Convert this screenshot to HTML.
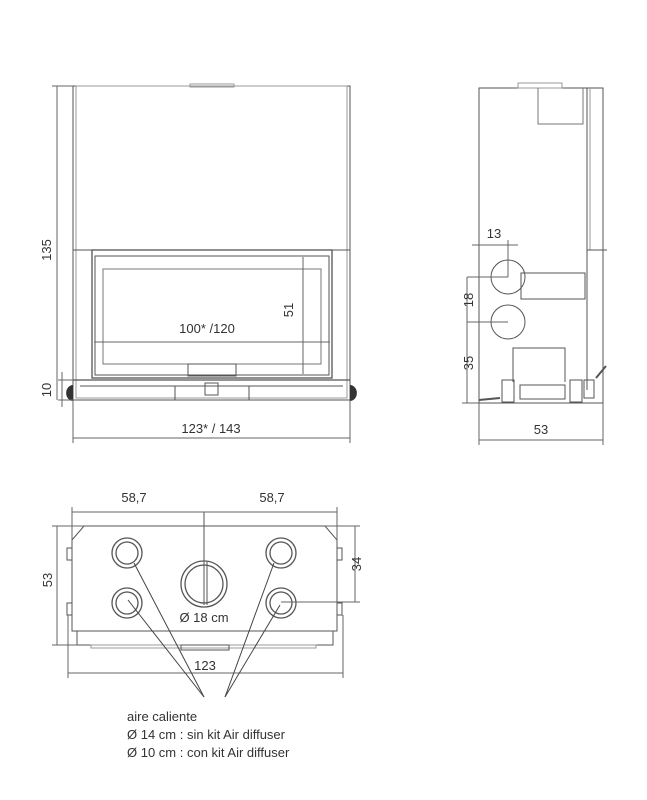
<!DOCTYPE html>
<html><head><meta charset="utf-8"><style>
html,body{margin:0;padding:0;background:#fff;width:647px;height:800px;overflow:hidden}
svg{display:block}
text{font-family:"Liberation Sans",sans-serif;fill:#333;font-size:13px}
</style></head><body>
<svg width="647" height="800" viewBox="0 0 647 800" xmlns="http://www.w3.org/2000/svg">
<g fill="none" stroke="#555" stroke-width="1">
<!-- FRONT VIEW -->
<rect x="73" y="86" width="277" height="314"/>
<rect x="76" y="86" width="271" height="312" stroke="#999"/>
<rect x="190" y="84" width="44" height="3" stroke="#999"/>
<line x1="73" y1="250" x2="350" y2="250"/>
<rect x="92" y="250" width="240" height="128" stroke-width="1.3"/>
<rect x="95" y="256" width="234" height="119"/>
<rect x="103" y="269" width="218" height="95" stroke="#777"/>
<rect x="188" y="364" width="48" height="12"/>
<line x1="73" y1="380" x2="350" y2="380" stroke-width="1.3"/>
<line x1="80" y1="386" x2="343" y2="386"/>
<line x1="175" y1="386" x2="175" y2="400"/>
<line x1="249" y1="386" x2="249" y2="400"/>
<rect x="205" y="383" width="13" height="12"/>
<line x1="73" y1="400" x2="350" y2="400"/>
<!-- feet -->
<g fill="#333" stroke="none"><path d="M73 385 a6 7 0 0 0 0 16 z"/><path d="M350 385 a6 7 0 0 1 0 16 z"/></g>
<!-- front dims -->
<line x1="57" y1="86" x2="57" y2="400" stroke="#666"/>
<line x1="52" y1="86" x2="73" y2="86" stroke="#666"/>
<line x1="62" y1="372" x2="62" y2="407" stroke="#666"/>
<line x1="58" y1="380" x2="73" y2="380" stroke="#666"/>
<line x1="58" y1="400" x2="73" y2="400" stroke="#666"/>
<line x1="73" y1="400" x2="73" y2="443" stroke="#666"/>
<line x1="350" y1="400" x2="350" y2="443" stroke="#666"/>
<line x1="73" y1="438" x2="350" y2="438" stroke="#666"/>
<line x1="94" y1="342" x2="330" y2="342" stroke="#666"/>
<line x1="303" y1="257" x2="303" y2="374" stroke="#666"/>

<!-- SIDE VIEW -->
<rect x="479" y="88" width="124" height="315"/>
<line x1="587" y1="88" x2="587" y2="390"/>
<line x1="590" y1="88" x2="590" y2="250" stroke="#999"/>
<rect x="518" y="83" width="44" height="5" stroke="#999"/>
<path d="M538 88 V124 H583 V88" stroke="#777"/>
<circle cx="508" cy="277" r="17"/>
<circle cx="508" cy="322" r="17"/>
<rect x="521" y="273" width="64" height="26"/>
<line x1="587" y1="250" x2="607" y2="250"/>
<path d="M513 382 V348 H565 V382"/>
<rect x="502" y="380" width="12" height="22"/>
<rect x="570" y="380" width="12" height="22"/>
<rect x="520" y="385" width="45" height="14"/>
<rect x="584" y="380" width="10" height="18"/>
<line x1="596" y1="378" x2="606" y2="366" stroke-width="2"/>
<line x1="479" y1="400" x2="500" y2="398" stroke-width="2"/>
<!-- side dims -->
<line x1="472" y1="245" x2="518" y2="245" stroke="#666"/>
<line x1="508" y1="240" x2="508" y2="277" stroke="#666"/>
<line x1="467" y1="277" x2="508" y2="277" stroke="#666"/>
<line x1="467" y1="322" x2="508" y2="322" stroke="#666"/>
<line x1="467" y1="277" x2="467" y2="403" stroke="#666"/>
<line x1="462" y1="403" x2="479" y2="403" stroke="#666"/>
<line x1="479" y1="403" x2="479" y2="445" stroke="#666"/>
<line x1="603" y1="403" x2="603" y2="445" stroke="#666"/>
<line x1="479" y1="440" x2="603" y2="440" stroke="#666"/>

<!-- TOP VIEW -->
<path d="M72 540 L84 526 H325 L337 540 V631 H72 Z"/>
<path d="M77 631 V645 H333 V631"/>
<rect x="91" y="645" width="225" height="3" stroke="#999"/>
<rect x="181" y="645" width="48" height="5"/>
<rect x="67" y="548" width="5" height="12"/>
<rect x="337" y="548" width="5" height="12"/>
<rect x="67" y="603" width="5" height="12"/>
<rect x="337" y="603" width="5" height="12"/>
<g stroke-width="1.3">
<circle cx="127" cy="553" r="15"/><circle cx="127" cy="553" r="11"/>
<circle cx="127" cy="603" r="15"/><circle cx="127" cy="603" r="11"/>
<circle cx="281" cy="553" r="15"/><circle cx="281" cy="553" r="11"/>
<circle cx="281" cy="603" r="15"/><circle cx="281" cy="603" r="11"/>
<circle cx="204" cy="584" r="23"/><circle cx="204" cy="584" r="19"/>
</g>
<line x1="204" y1="512" x2="204" y2="605"/>
<line x1="207" y1="562" x2="207" y2="605"/>
<!-- top dims -->
<line x1="72" y1="512" x2="337" y2="512" stroke="#666"/>
<line x1="72" y1="507" x2="72" y2="540" stroke="#666"/>
<line x1="337" y1="507" x2="337" y2="540" stroke="#666"/>
<line x1="57" y1="526" x2="57" y2="645" stroke="#666"/>
<line x1="52" y1="526" x2="84" y2="526" stroke="#666"/>
<line x1="52" y1="645" x2="77" y2="645" stroke="#666"/>
<line x1="325" y1="526" x2="360" y2="526" stroke="#666"/>
<line x1="355" y1="526" x2="355" y2="602" stroke="#666"/>
<line x1="281" y1="602" x2="360" y2="602" stroke="#666"/>
<line x1="68" y1="615" x2="68" y2="678" stroke="#666"/>
<line x1="343" y1="615" x2="343" y2="678" stroke="#666"/>
<line x1="68" y1="673" x2="343" y2="673" stroke="#666"/>
<!-- leaders -->
<g stroke="#444">
<line x1="134" y1="563" x2="204" y2="697"/>
<line x1="128" y1="600" x2="204" y2="697"/>
<line x1="274" y1="563" x2="225" y2="697"/>
<line x1="280" y1="605" x2="225" y2="697"/>
</g>
</g>
<!-- text -->
<text x="207" y="333" text-anchor="middle">100* /120</text>
<text x="293" y="310" text-anchor="middle" transform="rotate(-90 293 310)">51</text>
<text x="51" y="250" text-anchor="middle" transform="rotate(-90 51 250)">135</text>
<text x="51" y="390" text-anchor="middle" transform="rotate(-90 51 390)">10</text>
<text x="211" y="433" text-anchor="middle">123* / 143</text>
<text x="494" y="238" text-anchor="middle">13</text>
<text x="473" y="300" text-anchor="middle" transform="rotate(-90 473 300)">18</text>
<text x="473" y="363" text-anchor="middle" transform="rotate(-90 473 363)">35</text>
<text x="541" y="434" text-anchor="middle">53</text>
<text x="134" y="502" text-anchor="middle">58,7</text>
<text x="272" y="502" text-anchor="middle">58,7</text>
<text x="52" y="580" text-anchor="middle" transform="rotate(-90 52 580)">53</text>
<text x="361" y="564" text-anchor="middle" transform="rotate(-90 361 564)">34</text>
<text x="204" y="622" text-anchor="middle">Ø 18 cm</text>
<text x="205" y="670" text-anchor="middle">123</text>
<text x="127" y="721">aire caliente</text>
<text x="127" y="739">Ø 14 cm : sin kit Air diffuser</text>
<text x="127" y="757">Ø 10 cm : con kit Air diffuser</text>
</svg>
</body></html>
